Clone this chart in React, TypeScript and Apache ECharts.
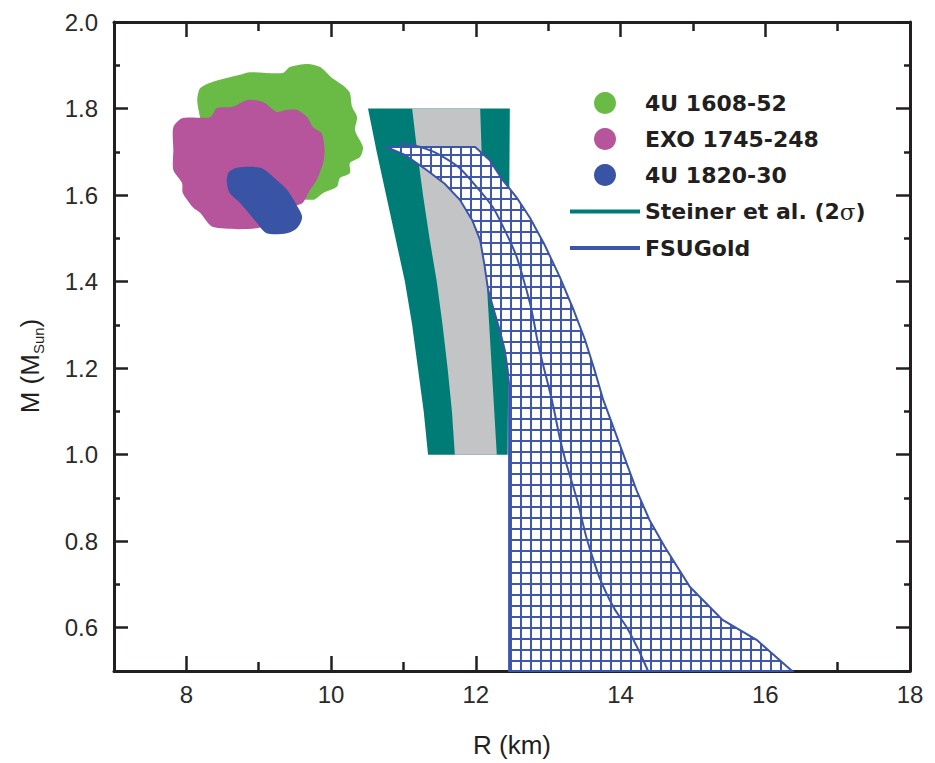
import React, { useEffect, useRef } from 'react';
import * as echarts from 'echarts';

// Axis ticks and labels
const xTickMajor = [8, 10, 12, 14, 16];
const xTickMinor = [9, 11, 13, 15, 17];
const xTickLabels = [8, 10, 12, 14, 16, 18];
const yTickMajor = [0.6, 0.8, 1.0, 1.2, 1.4, 1.6, 1.8, 2.0];
const yTickMinor = [0.7, 0.9, 1.1, 1.3, 1.5, 1.7, 1.9];

// 4U 1608-52 confidence region outline [R (km), M (Msun)]
const green4U1608: [number, number][] = [
  [8.15, 1.82], [8.19, 1.847], [8.35, 1.861], [8.74, 1.878], [8.88, 1.884], [9.33, 1.882],
  [9.43, 1.896], [9.67, 1.903], [9.85, 1.896], [10.01, 1.871], [10.19, 1.85], [10.26, 1.836],
  [10.29, 1.804], [10.36, 1.78], [10.33, 1.75], [10.44, 1.711], [10.4, 1.688], [10.26, 1.674],
  [10.26, 1.651], [10.12, 1.639], [10.08, 1.619], [9.89, 1.605], [9.75, 1.589], [9.3, 1.6],
  [8.7, 1.66], [8.25, 1.74], [8.19, 1.78],
];

// EXO 1745-248 confidence region outline
const magentaEXO1745: [number, number][] = [
  [7.82, 1.757], [7.95, 1.778], [8.33, 1.78], [8.42, 1.801], [8.64, 1.804], [8.84, 1.82],
  [9.06, 1.815], [9.25, 1.792], [9.39, 1.797], [9.53, 1.797], [9.67, 1.78], [9.75, 1.757],
  [9.87, 1.743], [9.91, 1.704], [9.89, 1.674], [9.8, 1.635], [9.71, 1.612], [9.61, 1.582],
  [9.47, 1.572], [9.06, 1.526], [8.37, 1.526], [8.19, 1.559], [8.09, 1.572], [7.95, 1.605],
  [7.94, 1.628], [7.82, 1.658], [7.82, 1.704],
];

// 4U 1820-30 confidence region outline
const blue4U1820: [number, number][] = [
  [8.56, 1.628], [8.58, 1.651], [8.7, 1.663], [9.02, 1.663], [9.2, 1.642], [9.39, 1.612],
  [9.54, 1.572], [9.6, 1.549], [9.53, 1.524], [9.39, 1.512], [9.11, 1.512], [8.98, 1.535],
  [8.74, 1.582], [8.6, 1.605],
];

// Steiner et al. bands
const steinerOuter: [number, number][] = [
  [10.51, 1.8], [10.63, 1.7], [10.76, 1.6], [10.89, 1.5], [11.02, 1.4], [11.12, 1.3],
  [11.2, 1.2], [11.28, 1.1], [11.34, 1.0], [12.44, 1.0], [12.47, 1.8],
];
const steinerInner: [number, number][] = [
  [11.12, 1.8], [11.19, 1.7], [11.27, 1.6], [11.36, 1.5], [11.46, 1.4], [11.54, 1.3],
  [11.61, 1.2], [11.67, 1.1], [11.71, 1.0], [12.29, 1.0], [12.22, 1.2], [12.15, 1.4],
  [12.1, 1.6], [12.06, 1.8],
];

// FSUGold band and central curve
const fsuGoldBand: [number, number][] = [
  [10.76, 1.711], [11.99, 1.711], [12.19, 1.681], [12.37, 1.635], [12.57, 1.593], [12.75, 1.547],
  [12.95, 1.485], [13.16, 1.411], [13.34, 1.339], [13.51, 1.265], [13.64, 1.196], [13.76, 1.127],
  [13.95, 1.041], [14.22, 0.918], [14.4, 0.849], [14.61, 0.787], [14.96, 0.694],
  [15.41, 0.618], [15.88, 0.572], [16.37, 0.5], [12.46, 0.5], [12.46, 1.161], [12.44, 1.196],
  [12.4, 1.242], [12.33, 1.288], [12.25, 1.334], [12.17, 1.381], [12.12, 1.438], [12.06, 1.496],
  [11.95, 1.542], [11.78, 1.589], [11.57, 1.626], [11.32, 1.658], [11.02, 1.693],
];
const fsuGoldCentral: [number, number][] = [
  [10.95, 1.72], [11.5, 1.693], [12.01, 1.619], [12.4, 1.519], [12.7, 1.381], [12.88, 1.242],
  [13.05, 1.127], [13.2, 1.011], [13.4, 0.895], [13.58, 0.78], [13.85, 0.664], [14.13, 0.588],
  [14.38, 0.5],
];

const GREEN = '#6aba46';
const MAGENTA = '#b6549c';
const BLUE_BLOB = '#3953a5';
const TEAL = '#007c76';
const GRAY = '#c3c4c6';
const HATCH = '#3c55a8';
const INK = '#231f20';

const polygonSeries = (name: string, pts: [number, number][], style: any, z: number, smooth = 0, color?: string) => ({
  type: 'custom',
  name,
  xAxisIndex: 0,
  yAxisIndex: 0,
  z,
  silent: true,
  itemStyle: { color: color || style.fill },
  data: pts,
  encode: { x: 0, y: 1 },
  renderItem: (params: any, api: any) => {
    if (params.dataIndex !== 0) return;
    return {
      type: 'polygon',
      shape: { points: pts.map((p) => api.coord(p)), smooth },
      style,
    };
  },
});

export default function App() {
  const ref = useRef<HTMLDivElement>(null);

  useEffect(() => {
    const chart = echarts.init(ref.current as HTMLDivElement, null, { renderer: 'svg' });

    const c = document.createElement('canvas');
    c.width = 10;
    c.height = 11;
    const ctx = c.getContext('2d') as CanvasRenderingContext2D;
    ctx.fillStyle = '#ffffff';
    ctx.fillRect(0, 0, 10, 11);
    ctx.fillStyle = '#4057ab';
    ctx.fillRect(0, 0, 2, 11);
    ctx.fillRect(0, 0, 10, 2);
    const hatch: any = { image: c, repeat: 'repeat', imageWidth: 10, imageHeight: 11 };

    const tickStyle = { color: INK, width: 2.5 };
    const axisLine = { show: true, onZero: false, lineStyle: { color: INK, width: 3 } };
    const labelStyle = { fontFamily: 'Liberation Sans', fontSize: 24, color: '#2a2a2a' };

    const xBase = { type: 'value', min: 7, max: 18, splitLine: { show: false } };
    const yBase = { type: 'value', min: 0.5, max: 2.0, splitLine: { show: false } };

    const option: any = {
      animation: false,
      backgroundColor: '#ffffff',
      grid: { left: 114, right: 25, top: 22, bottom: 92, containLabel: false },
      xAxis: [
        {
          ...xBase,
          position: 'bottom',
          axisLine,
          axisTick: { show: true, inside: true, length: 15, customValues: xTickMajor, lineStyle: tickStyle },
          axisLabel: { customValues: xTickLabels, margin: 11, formatter: (v: number) => String(v), ...labelStyle },
          name: 'R (km)',
          nameLocation: 'middle',
          nameGap: 61,
          nameTextStyle: { fontFamily: 'Liberation Sans', fontSize: 26, color: INK },
        },
        {
          ...xBase,
          position: 'bottom',
          axisLine: { show: false },
          axisTick: { show: true, inside: true, length: 9, customValues: xTickMinor, lineStyle: tickStyle },
          axisLabel: { show: false },
        },
        {
          ...xBase,
          position: 'top',
          axisLine,
          axisTick: { show: true, inside: true, length: 15, customValues: xTickMajor, lineStyle: tickStyle },
          axisLabel: { show: false },
        },
        {
          ...xBase,
          position: 'top',
          axisLine: { show: false },
          axisTick: { show: true, inside: true, length: 9, customValues: xTickMinor, lineStyle: tickStyle },
          axisLabel: { show: false },
        },
      ],
      yAxis: [
        {
          ...yBase,
          position: 'left',
          axisLine,
          axisTick: { show: true, inside: true, length: 14, customValues: yTickMajor, lineStyle: tickStyle },
          axisLabel: { customValues: yTickMajor, margin: 16, formatter: (v: number) => v.toFixed(1), ...labelStyle },
        },
        {
          ...yBase,
          position: 'left',
          axisLine: { show: false },
          axisTick: { show: true, inside: true, length: 6, customValues: yTickMinor, lineStyle: tickStyle },
          axisLabel: { show: false },
        },
        {
          ...yBase,
          position: 'right',
          axisLine,
          axisTick: { show: true, inside: true, length: 14, customValues: yTickMajor, lineStyle: tickStyle },
          axisLabel: { show: false },
        },
        {
          ...yBase,
          position: 'right',
          axisLine: { show: false },
          axisTick: { show: true, inside: true, length: 6, customValues: yTickMinor, lineStyle: tickStyle },
          axisLabel: { show: false },
        },
      ],
      legend: {
        orient: 'vertical',
        left: 570,
        top: 92,
        padding: 0,
        itemGap: 14,
        itemWidth: 70,
        itemHeight: 22,
        selectedMode: false,
        data: [
          { name: '4U 1608-52', icon: 'circle', itemStyle: { color: GREEN } },
          { name: 'EXO 1745-248', icon: 'circle', itemStyle: { color: MAGENTA } },
          { name: '4U 1820-30', icon: 'circle', itemStyle: { color: BLUE_BLOB } },
          { name: 'Steiner et al. (2σ)', icon: 'path://M0 0H70V4H0Z', itemStyle: { color: TEAL } },
          { name: 'FSUGold', icon: 'path://M0 0H70V4H0Z', itemStyle: { color: HATCH } },
        ],
        formatter: (name: string) =>
          name === 'Steiner et al. (2σ)' ? '{b|Steiner et al. (2}{g|σ}{b|)}' : '{b|' + name + '}',
        textStyle: {
          rich: {
            b: { fontFamily: 'DejaVu Sans', fontWeight: 'bold', fontSize: 22, color: INK },
            g: { fontFamily: 'DejaVu Serif', fontSize: 23, color: INK },
          },
        },
      },
      graphic: [
        {
          type: 'text',
          x: 30,
          y: 366,
          rotation: Math.PI / 2,
          style: {
            text: '{a|M (M}{s|Sun}{a|)}',
            align: 'center',
            verticalAlign: 'middle',
            rich: {
              a: { fontFamily: 'Liberation Sans', fontSize: 26, fill: INK, lineHeight: 32, verticalAlign: 'middle' },
              s: { fontFamily: 'Liberation Sans', fontSize: 15, fill: INK, lineHeight: 32, verticalAlign: 'top', padding: [17, 0, 0, 0] },
            },
          },
        },
      ],
      series: [
        polygonSeries('4U 1608-52', green4U1608, { fill: GREEN }, 2, 0.25),
        polygonSeries('EXO 1745-248', magentaEXO1745, { fill: MAGENTA }, 3, 0.25),
        polygonSeries('4U 1820-30', blue4U1820, { fill: BLUE_BLOB }, 4, 0.3),
        polygonSeries('Steiner et al. (2σ)', steinerOuter, { fill: TEAL }, 5),
        polygonSeries('Steiner 1σ', steinerInner, { fill: GRAY }, 6),
        polygonSeries('FSUGold', fsuGoldBand, { fill: hatch, stroke: HATCH, lineWidth: 2 }, 7, 0, HATCH),
        {
          type: 'line',
          name: 'FSUGold central',
          xAxisIndex: 0,
          yAxisIndex: 0,
          z: 8,
          data: fsuGoldCentral,
          smooth: true,
          showSymbol: false,
          silent: true,
          lineStyle: { color: HATCH, width: 2 },
        },
      ],
    };

    chart.setOption(option);
    return () => chart.dispose();
  }, []);

  return (
    <div
      ref={ref}
      style={{ position: 'fixed', left: 0, top: 0, width: 935, height: 763, background: '#fff' }}
    />
  );
}
